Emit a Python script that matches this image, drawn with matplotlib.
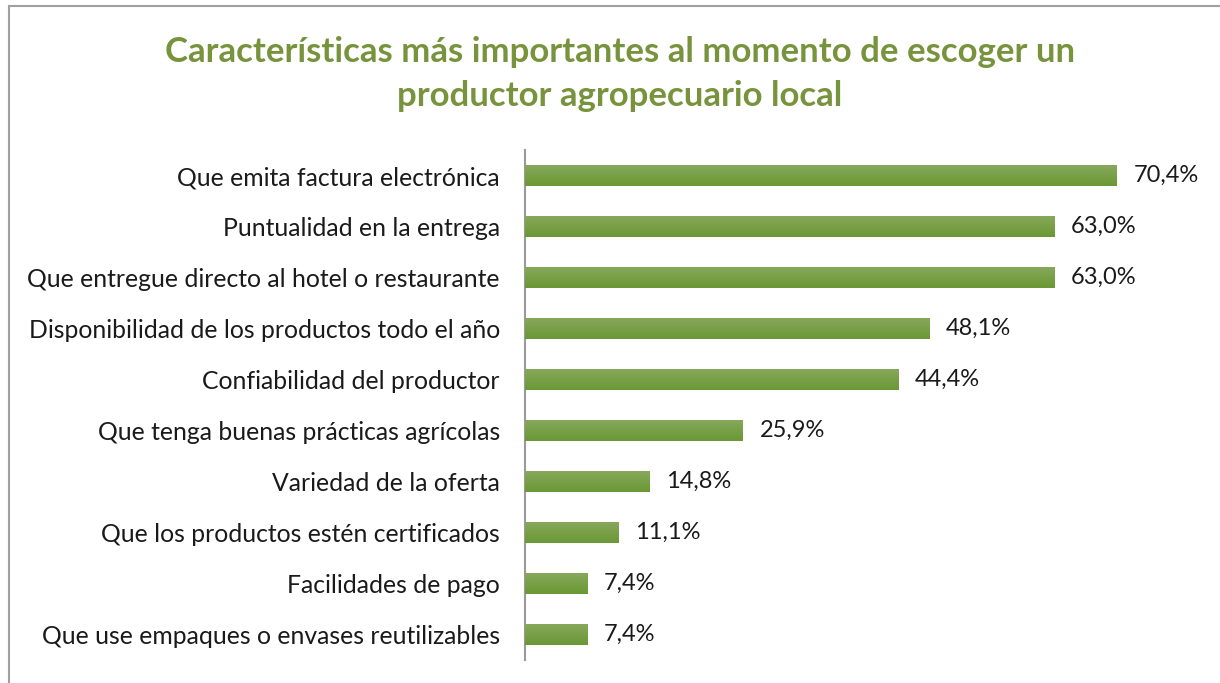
import numpy as np
import matplotlib.pyplot as plt
from matplotlib.patches import Rectangle
from matplotlib.colors import LinearSegmentedColormap

# datos
categorias = ['Que emita factura electrónica', 'Puntualidad en la entrega',
              'Que entregue directo al hotel o restaurante',
              'Disponibilidad de los productos todo el año',
              'Confiabilidad del productor', 'Que tenga buenas prácticas agrícolas',
              'Variedad de la oferta', 'Que los productos estén certificados',
              'Facilidades de pago', 'Que use empaques o envases reutilizables']
valores = [70.4, 63.0, 63.0, 48.1, 44.4, 25.9, 14.8, 11.1, 7.4, 7.4]
etiquetas = ['70,4%', '63,0%', '63,0%', '48,1%', '44,4%', '25,9%', '14,8%', '11,1%', '7,4%', '7,4%']

plt.rcParams['font.family'] = ['Lato', 'DejaVu Sans']

fig = plt.figure(figsize=(12.2, 6.83), dpi=100)
ax = fig.add_axes([0.4303, 0.0337, 0.551, 0.7463])

y = np.arange(len(categorias))
bars = ax.barh(y, valores, height=0.41, color='#77A043')

# degradado vertical en cada barra
grad = np.linspace(0, 1, 64).reshape(-1, 1)
cmap = LinearSegmentedColormap.from_list('g', ['#87A85C', '#6A9834'])
for b in bars:
    x0, y0 = b.get_x(), b.get_y()
    w, h = b.get_width(), b.get_height()
    im = ax.imshow(grad, cmap=cmap, aspect='auto', extent=[x0, x0 + w, y0 + h, y0],
                   zorder=3)
    im.set_clip_path(b)
    b.set_alpha(0)

for yi, v, t in zip(y, valores, etiquetas):
    ax.text(v + 2.0, yi, t, va='center', ha='left', fontsize=17, color='#1a1a1a')

ax.set_xlim(0, 80)
ax.set_ylim(len(categorias) - 0.5, -0.5)
ax.set_yticks(y)
ax.set_yticklabels(categorias, fontsize=17.8, color='#1a1a1a')
ax.tick_params(axis='y', length=0, pad=18)
ax.set_xticks([])
for s in ['top', 'right', 'bottom']:
    ax.spines[s].set_visible(False)
ax.spines['left'].set_color('#9a9a9a')
ax.spines['left'].set_linewidth(1.5)

fig.text(0.508, 0.892, 'Características más importantes al momento de escoger un\nproductor agropecuario local',
         ha='center', va='center', fontsize=25, fontweight='bold', color='#77933C',
         linespacing=1.45)

# borde del gráfico
fig.patches.append(Rectangle((9 / 1220, -0.05), 1.2, 1 - 6 / 683 + 0.05, transform=fig.transFigure,
                             fill=False, edgecolor='#a0a0a0', linewidth=1.5))

fig.savefig('out.png', dpi=100)
